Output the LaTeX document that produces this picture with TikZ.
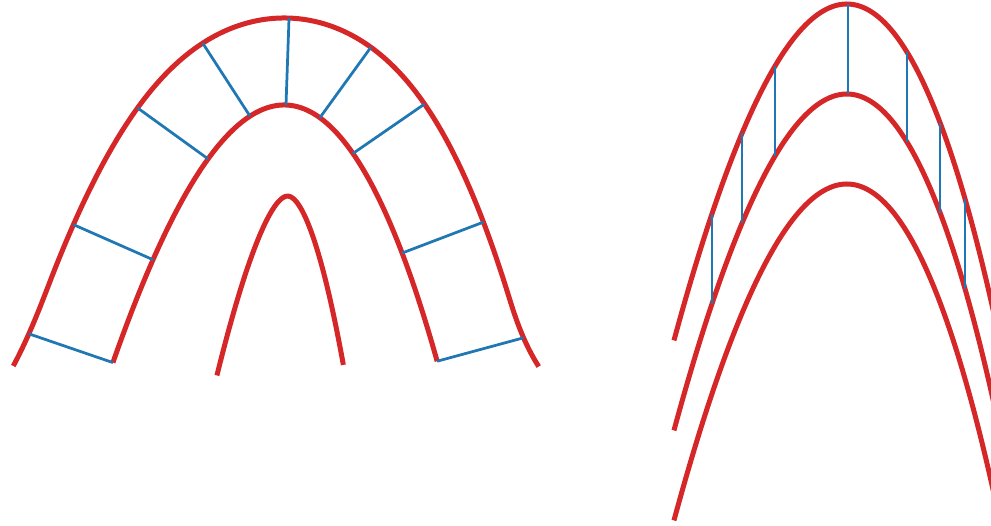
\documentclass[tikz,border=0pt]{standalone}
\definecolor{tabred}{HTML}{D62728}
\definecolor{tabblue}{HTML}{1F77B4}
\begin{document}
\begin{tikzpicture}[x=0.02cm,y=-0.02cm,
  redcurve/.style={draw=tabred,line width=0.1cm},
  bluebar/.style={draw=tabblue,line width=0.055cm},
  declare function={
    flr(\s)=max(abs(\s)-145,0)/10*max(abs(\s)-145,0)/10*max(abs(\s)-145,0)/10*((\s>0)*0.78-(\s<0)*0.28);
    ofu(\s)=(\s)+87*0.0196*(\s)/sqrt(1+(0.0196*(\s))^2)+flr(\s);
    ofv(\s)=0.0098*(\s)*(\s)-87/sqrt(1+(0.0196*(\s))^2);
  }]
\useasboundingbox (0,0) rectangle (991,525);
\clip (0,0) rectangle (991,525);
% ---------- left figure: parabola, its parallel curve, and a narrow inner arch ----------
\begin{scope}[shift={(286,105)},rotate=-2]
  % middle parabola
  \draw[redcurve] plot[domain=-164:160,samples=120,smooth,variable=\t] ({\t},{0.0098*(\t)*(\t)});
  % outer parallel curve (distance 87), ends slightly flared
  \draw[redcurve] plot[domain=-173.5:168.4,samples=160,smooth,variable=\t] ({ofu(\t)},{ofv(\t)});
  % inner arch
  \draw[redcurve] plot[domain=-64.6:61.4,samples=80,smooth,variable=\t]
       ({5+(\t)},{91+0.183*(pow((\t)*(\t)+64,0.83)-31.56)});
  % normals between middle and outer curves
  \foreach \t in {0,-35.6,-76,-127.5,-164,34.3,68.6,121.2,160}
    \draw[bluebar] ({\t},{0.0098*(\t)*(\t)}) -- ({ofu(\t)},{ofv(\t)});
\end{scope}
% ---------- right figure: three vertical translates of a parabola ----------
\foreach \off in {4,94,184}
  \draw[redcurve,shift={(848,\off)},rotate=-1.7]
    plot[domain=-164:178,samples=100,smooth,variable=\t] ({\t},{0.0127*(\t)*(\t)});
\foreach \bx/\by in {848/4, 775/66, 742/133, 712/214, 907/52, 940/123, 965/199}
  \draw[bluebar] (\bx,\by) -- ++(0,90);
\end{tikzpicture}
\end{document}
